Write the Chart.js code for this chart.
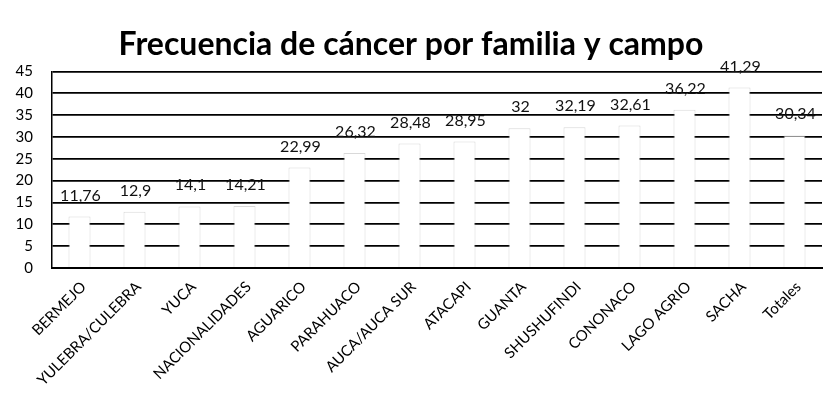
<!DOCTYPE html>
<html>
<head>
<meta charset="utf-8">
<script src="https://cdn.jsdelivr.net/npm/chart.js@4.4.1/dist/chart.umd.min.js"></script>
<style>
  html, body { margin: 0; padding: 0; background: #fff; }
</style>
</head>
<body>
<canvas id="chart" width="826" height="417"></canvas>
<script>
const campos = ['BERMEJO', 'YULEBRA/CULEBRA', 'YUCA', 'NACIONALIDADES', 'AGUARICO', 'PARAHUACO',
  'AUCA/AUCA SUR', 'ATACAPI', 'GUANTA', 'SHUSHUFINDI', 'CONONACO', 'LAGO AGRIO', 'SACHA', 'Totales'];
const frecuencia = [11.76, 12.9, 14.1, 14.21, 22.99, 26.32, 28.48, 28.95, 32, 32.19, 32.61, 36.22, 41.29, 30.34];
const yTicks = [0, 5, 10, 15, 20, 25, 30, 35, 40, 45];

const font = 'Lato, "Open Sans", sans-serif';

// labels above every bar, Excel style "11,76"
const valueLabels = {
  id: 'valueLabels',
  afterDatasetsDraw (chart) {
    const ctx = chart.ctx;
    const meta = chart.getDatasetMeta(0);
    ctx.save();
    ctx.font = '16px ' + font;
    ctx.fillStyle = '#111';
    ctx.textAlign = 'center';
    ctx.textBaseline = 'alphabetic';
    meta.data.forEach((bar, i) => {
      const txt = String(frecuencia[i]).replace('.', ',');
      ctx.fillText(txt, bar.x + 1, bar.y - 16);
    });
    ctx.restore();
  }
};

new Chart(document.getElementById('chart'), {
  type: 'bar',
  data: {
    labels: campos,
    datasets: [{
      data: frecuencia,
      backgroundColor: '#fff',
      borderColor: 'rgba(170,170,170,0.45)',
      borderWidth: 1,
      categoryPercentage: 1,
      barPercentage: 0.4
    }]
  },
  options: {
    responsive: false,
    animation: false,
    layout: { padding: { top: 25, right: 4, left: 0, bottom: 8 } },
    plugins: {
      legend: { display: false },
      tooltip: { enabled: false },
      title: {
        display: true,
        text: 'Frecuencia de cáncer por familia y campo',
        color: '#000',
        font: { family: font, size: 32, weight: 'bold' },
        padding: { top: 0, bottom: 8 }
      }
    },
    scales: {
      x: {
        grid: { display: false },
        border: { display: true, color: '#000', width: 2 },
        ticks: {
          autoSkip: false,
          maxRotation: 45,
          minRotation: 45,
          color: '#000',
          font: { family: font, size: 15 },
          padding: 2,
          labelOffset: 4
        },
        afterFit (scale) { scale.height = 141; }
      },
      y: {
        min: 0,
        max: 45,
        afterBuildTicks (scale) { scale.ticks = yTicks.map(v => ({ value: v })); },
        grid: { color: '#000', lineWidth: 1.8, drawTicks: false },
        border: { display: true, color: '#000', width: 1.5 },
        ticks: {
          color: '#000',
          font: { family: font, size: 15 },
          padding: 19
        },
        afterFit (scale) { scale.width = 52; }
      }
    }
  },
  plugins: [valueLabels]
});
</script>
</body>
</html>
